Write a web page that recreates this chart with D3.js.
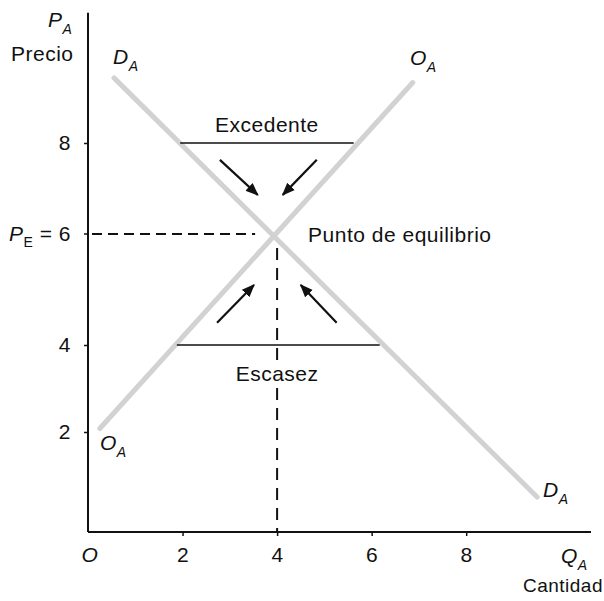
<!DOCTYPE html>
<html>
<head>
<meta charset="utf-8">
<script src="https://cdn.jsdelivr.net/npm/d3@7"></script>
<style>
  body { margin: 0; background: #fff; }
  text { font-family: "Liberation Sans", Arial, sans-serif; fill: #111; letter-spacing: 0.5px; }
</style>
</head>
<body>
<div id="chart"></div>
<script>
// datos
const xTicks = [2, 4, 6, 8];
const yTicks = [2, 4, 8];
const demand = [{ q: 0.55, p: 9.4 }, { q: 9.5, p: 0.7 }];
const supply = [{ q: 0.25, p: 2.08 }, { q: 6.87, p: 9.3 }];
const surplus = [{ q: 1.95, p: 8 }, { q: 5.62, p: 8 }];
const shortage = [{ q: 1.88, p: 4 }, { q: 6.17, p: 4 }];
const eqQ = 4, eqP = 6;
const arrows = [
  [{ q: 2.79, p: 7.63 }, { q: 3.59, p: 6.86 }],
  [{ q: 4.84, p: 7.63 }, { q: 4.12, p: 6.86 }],
  [{ q: 2.73, p: 4.40 }, { q: 3.51, p: 5.08 }],
  [{ q: 5.26, p: 4.40 }, { q: 4.50, p: 5.08 }]
];

const width = 604, height = 601;
const fs = "21px";

const svg = d3.select("#chart")
  .append("svg")
  .attr("width", width)
  .attr("height", height);

const x = d3.scaleLinear().domain([0, 10.64]).range([88, 591]);
// el escaneo no es del todo lineal en el eje vertical
const y = d3.scaleLinear()
  .domain([0, 2, 4, 6, 8, 10])
  .range([532, 432, 345, 234, 143, 50]);

svg.append("defs").append("marker")
  .attr("id", "head")
  .attr("viewBox", "0 0 10 10")
  .attr("refX", 9).attr("refY", 5)
  .attr("markerWidth", 6).attr("markerHeight", 6)
  .attr("orient", "auto")
  .append("path")
  .attr("d", "M0,1 L10,5 L0,9 Z")
  .attr("fill", "#111");

const line = d3.line().x(d => x(d.q)).y(d => y(d.p));

// curvas de oferta y demanda
[demand, supply].forEach(c => {
  svg.append("path")
    .attr("d", line(c))
    .attr("stroke", "#d2d2d2")
    .attr("stroke-width", 5)
    .attr("stroke-linecap", "round")
    .attr("fill", "none");
});

// ejes
svg.append("line")
  .attr("x1", x(0)).attr("x2", x(0))
  .attr("y1", y(0)).attr("y2", y(10.8))
  .attr("stroke", "#111").attr("stroke-width", 2);
svg.append("line")
  .attr("x1", x(0)).attr("x2", x(10.64))
  .attr("y1", y(0)).attr("y2", y(0))
  .attr("stroke", "#111").attr("stroke-width", 2);

const yAxis = svg.append("g")
  .attr("transform", `translate(${x(0)},0)`)
  .call(d3.axisLeft(y).tickValues(yTicks).tickSize(4).tickPadding(13));
yAxis.select(".domain").remove();

const xAxis = svg.append("g")
  .attr("transform", `translate(0,${y(0)})`)
  .call(d3.axisBottom(x).tickValues(xTicks).tickSize(4).tickPadding(11));
xAxis.select(".domain").remove();

[yAxis, xAxis].forEach(g => {
  g.selectAll(".tick line").attr("stroke", "#111").attr("stroke-width", 1.5);
  g.selectAll(".tick text").style("font-size", fs);
  g.attr("font-family", null).attr("font-size", null);
});

// tick 6 del eje vertical: P_E = 6
const pe = svg.append("text")
  .attr("x", 71).attr("y", y(eqP) + 7)
  .attr("text-anchor", "end")
  .style("font-size", fs);
pe.append("tspan").attr("font-style", "italic").text("P");
pe.append("tspan").attr("dy", 6).style("font-size", "14px").text("E");
pe.append("tspan").attr("dy", -6).text(" = 6");
svg.append("line")
  .attr("x1", x(0) - 4).attr("x2", x(0))
  .attr("y1", y(eqP)).attr("y2", y(eqP))
  .attr("stroke", "#111").attr("stroke-width", 1.5);

// líneas de excedente y escasez
[surplus, shortage].forEach(s => {
  svg.append("path")
    .attr("d", line(s))
    .attr("stroke", "#111")
    .attr("stroke-width", 1.7)
    .attr("fill", "none");
});

// líneas punteadas del equilibrio
svg.append("line")
  .attr("x1", x(0) + 4).attr("x2", x(eqQ) - 22)
  .attr("y1", y(eqP)).attr("y2", y(eqP))
  .attr("stroke", "#111").attr("stroke-width", 2)
  .attr("stroke-dasharray", "10,6");
svg.append("line")
  .attr("x1", x(eqQ)).attr("x2", x(eqQ))
  .attr("y1", y(eqP) + 14).attr("y2", y(0))
  .attr("stroke", "#111").attr("stroke-width", 2)
  .attr("stroke-dasharray", "12,8");

// flechas
arrows.forEach(a => {
  svg.append("path")
    .attr("d", line(a))
    .attr("stroke", "#111")
    .attr("stroke-width", 2.2)
    .attr("marker-end", "url(#head)");
});

// etiquetas
function subLabel(x0, y0, main, sub) {
  const t = svg.append("text")
    .attr("x", x0).attr("y", y0)
    .style("font-size", fs)
    .attr("font-style", "italic");
  t.append("tspan").text(main);
  t.append("tspan").attr("dy", 7).style("font-size", "14px").text(sub);
  return t;
}

subLabel(48, 27, "P", "A");
svg.append("text").attr("x", 11).attr("y", 61).style("font-size", fs).text("Precio");
subLabel(113, 64, "D", "A");
subLabel(410, 65, "O", "A");
subLabel(543, 497, "D", "A");
subLabel(100, 450, "O", "A");
subLabel(561, 563, "Q", "A");

svg.append("text")
  .attr("x", x(0) + 2).attr("y", y(0) + 15 + 15)
  .attr("text-anchor", "middle")
  .attr("font-style", "italic")
  .style("font-size", fs)
  .text("O");

svg.append("text")
  .attr("x", 603).attr("y", 592)
  .attr("text-anchor", "end")
  .style("font-size", "19px")
  .text("Cantidad");

svg.append("text")
  .attr("x", x((surplus[0].q + surplus[1].q) / 2)).attr("y", y(8) - 11)
  .attr("text-anchor", "middle")
  .style("font-size", fs)
  .text("Excedente");

// "Escasez" tapa la línea punteada
const bg = svg.append("rect").attr("fill", "#fff");
const esc = svg.append("text")
  .attr("x", x(eqQ)).attr("y", y(4) + 36)
  .attr("text-anchor", "middle")
  .style("font-size", fs)
  .text("Escasez");
const bb = esc.node().getBBox();
bg.attr("x", bb.x - 2).attr("y", bb.y + 2)
  .attr("width", bb.width + 4).attr("height", bb.height - 2);

svg.append("text")
  .attr("x", x(eqQ) + 31).attr("y", y(eqP) + 8)
  .style("font-size", fs)
  .text("Punto de equilibrio");
</script>
</body>
</html>
